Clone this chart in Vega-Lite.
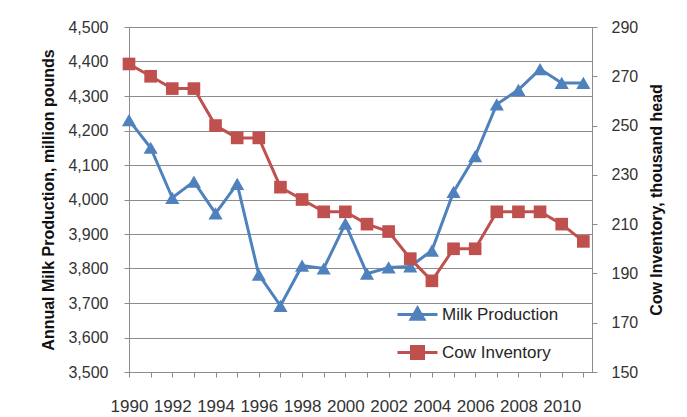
{
  "$schema": "https://vega.github.io/schema/vega-lite/v6.json",
  "width": 463,
  "height": 345,
  "autosize": {"type": "none"},
  "padding": {"left": 129, "top": 27, "right": 95, "bottom": 45},
  "background": "white",
  "config": {
    "font": "Liberation Sans",
    "view": {"stroke": null},
    "axis": {
      "labelFont": "Liberation Sans",
      "labelFontSize": 16,
      "labelColor": "#333333",
      "titleFont": "Liberation Sans",
      "titleFontSize": 16,
      "titleFontWeight": "bold",
      "titleColor": "#111111",
      "domainColor": "#8c8c8c",
      "tickColor": "#8c8c8c",
      "gridColor": "#8c8c8c",
      "tickSize": 5,
      "domainWidth": 1,
      "tickWidth": 1,
      "gridWidth": 1
    }
  },
  "data": {
    "values": [
      {"year": 1990, "milk": 4230, "cow": 275},
      {"year": 1991, "milk": 4150, "cow": 270},
      {"year": 1992, "milk": 4005, "cow": 265},
      {"year": 1993, "milk": 4052, "cow": 265},
      {"year": 1994, "milk": 3960, "cow": 250},
      {"year": 1995, "milk": 4045, "cow": 245},
      {"year": 1996, "milk": 3782, "cow": 245},
      {"year": 1997, "milk": 3692, "cow": 225},
      {"year": 1998, "milk": 3808, "cow": 220},
      {"year": 1999, "milk": 3800, "cow": 215},
      {"year": 2000, "milk": 3930, "cow": 215},
      {"year": 2001, "milk": 3785, "cow": 210},
      {"year": 2002, "milk": 3803, "cow": 207},
      {"year": 2003, "milk": 3806, "cow": 196},
      {"year": 2004, "milk": 3852, "cow": 187},
      {"year": 2005, "milk": 4022, "cow": 200},
      {"year": 2006, "milk": 4126, "cow": 200},
      {"year": 2007, "milk": 4276, "cow": 215},
      {"year": 2008, "milk": 4318, "cow": 215},
      {"year": 2009, "milk": 4378, "cow": 215},
      {"year": 2010, "milk": 4338, "cow": 210},
      {"year": 2011, "milk": 4338, "cow": 203}
    ]
  },
  "encoding": {
    "x": {
      "field": "year",
      "type": "quantitative",
      "scale": {"domain": [1990, 2011.4], "nice": false, "zero": false},
      "axis": {
        "title": null,
        "grid": false,
        "values": [1990, 1991, 1992, 1993, 1994, 1995, 1996, 1997, 1998, 1999, 2000, 2001, 2002, 2003, 2004, 2005, 2006, 2007, 2008, 2009, 2010, 2011],
        "format": "d",
        "labelExpr": "datum.value % 2 == 0 ? datum.label : ''",
        "labelFontSize": 17,
        "labelPadding": 21,
        "labelOverlap": false,
        "labelFlush": false
      }
    }
  },
  "layer": [
    {
      "encoding": {
        "y": {
          "field": "milk",
          "type": "quantitative",
          "scale": {"domain": [3500, 4500], "nice": false, "zero": false},
          "axis": {
            "orient": "left",
            "title": "Annual Milk Production, million pounds",
            "values": [3500, 3600, 3700, 3800, 3900, 4000, 4100, 4200, 4300, 4400, 4500],
            "format": ",.0f",
            "grid": true,
            "labelPadding": 16,
            "titlePadding": 11
          }
        },
        "color": {
          "datum": "Milk Production",
          "type": "nominal",
          "scale": {"domain": ["Milk Production", "Cow Inventory"], "range": ["#4F81BD", "#C0504D"]},
          "legend": {
            "orient": "none",
            "legendX": 267,
            "legendY": 266,
            "title": null,
            "symbolSize": 1600,
            "labelFontSize": 17,
            "labelColor": "#262626",
            "labelOffset": 3,
            "rowPadding": 5,
            "padding": 0,
            "encode": {
              "symbols": {
                "update": {
                  "shape": {"signal": "datum.value === 'Milk Production' ? 'M-1,0L1,0M0,-0.32L0.32,0.24L-0.32,0.24Z' : 'M-1,0L1,0M-0.3,-0.3L0.3,-0.3L0.3,0.3L-0.3,0.3Z'"},
                  "fill": {"signal": "datum.value === 'Milk Production' ? '#4F81BD' : '#C0504D'"},
                  "stroke": {"signal": "datum.value === 'Milk Production' ? '#4F81BD' : '#C0504D'"},
                  "strokeWidth": {"value": 3},
                  "opacity": {"value": 1},
                  "fillOpacity": {"value": 1},
                  "strokeOpacity": {"value": 1}
                }
              }
            }
          }
        }
      },
      "layer": [
        {"mark": {"type": "line", "strokeWidth": 3}},
        {"mark": {"type": "point", "shape": "triangle-up", "filled": true, "size": 200, "opacity": 1}}
      ]
    },
    {
      "encoding": {
        "y": {
          "field": "cow",
          "type": "quantitative",
          "scale": {"domain": [150, 290], "nice": false, "zero": false},
          "axis": {
            "orient": "right",
            "title": "Cow Inventory, thousand head",
            "values": [150, 170, 190, 210, 230, 250, 270, 290],
            "grid": false,
            "labelPadding": 14,
            "titleAngle": 270,
            "titleBaseline": "top",
            "titlePadding": 11
          }
        },
        "color": {"datum": "Cow Inventory", "type": "nominal"}
      },
      "layer": [
        {"mark": {"type": "line", "strokeWidth": 3}},
        {"mark": {"type": "point", "shape": "square", "filled": true, "size": 160, "opacity": 1}}
      ]
    }
  ],
  "resolve": {"scale": {"y": "independent"}}
}
